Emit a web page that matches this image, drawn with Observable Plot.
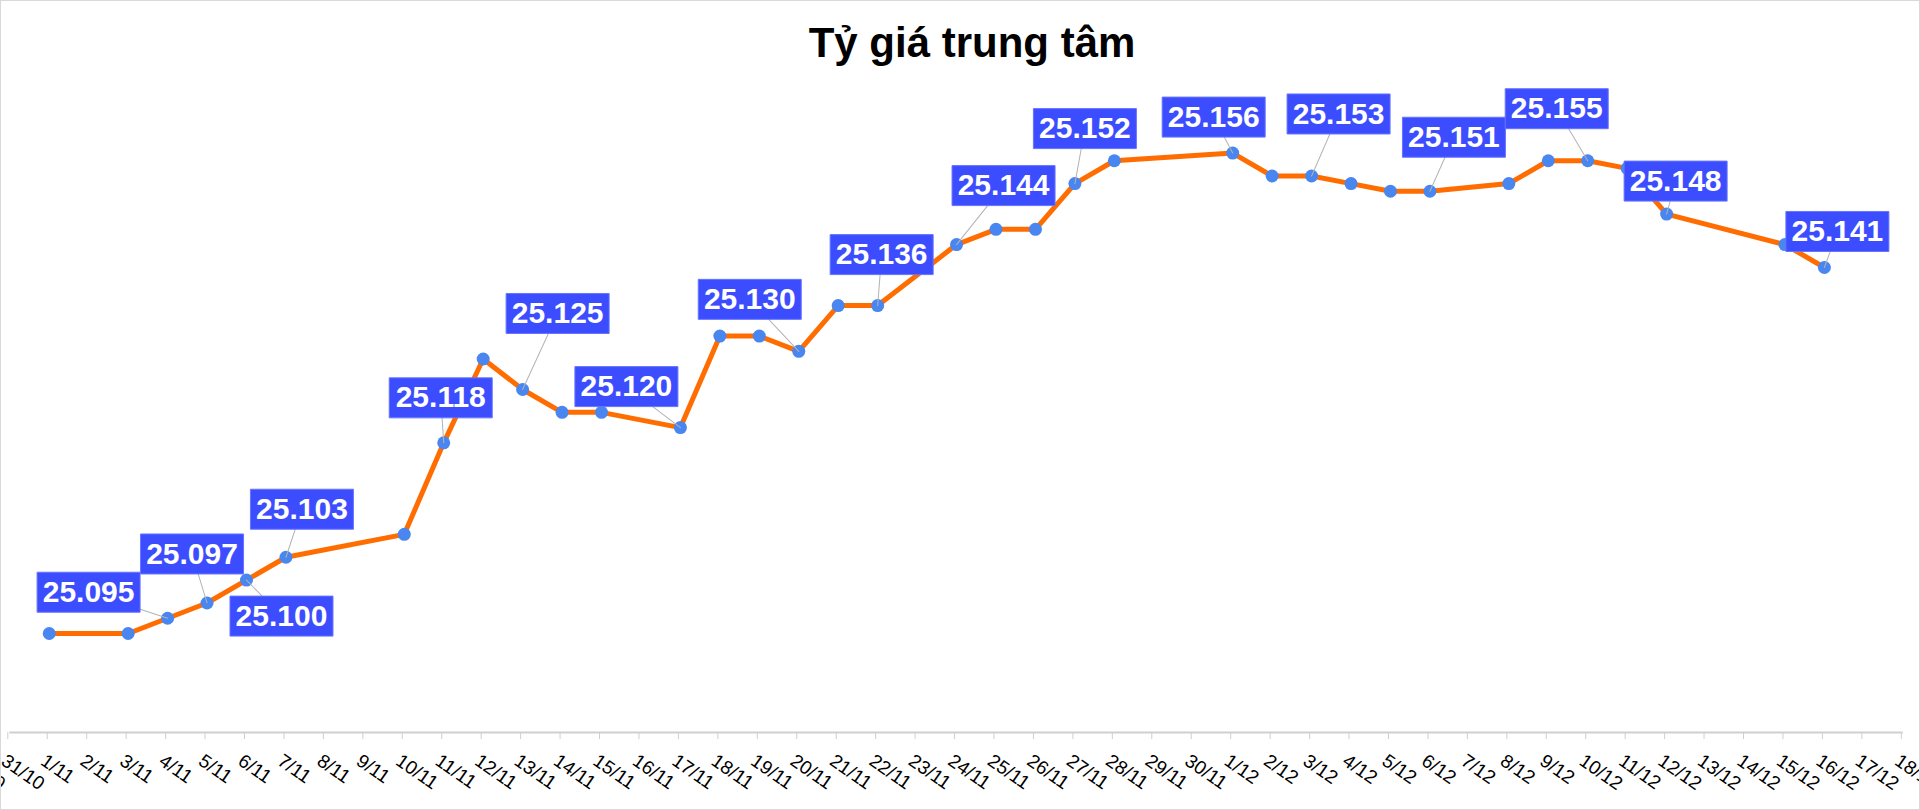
<!DOCTYPE html>
<html><head><meta charset="utf-8">
<script src="https://cdn.jsdelivr.net/npm/d3@7"></script>
<script src="https://cdn.jsdelivr.net/npm/@observablehq/plot@0.6"></script>
<style>
html,body{margin:0;padding:0;background:#fff;}
#wrap{position:relative;width:1920px;height:810px;overflow:hidden;font-family:"Liberation Sans",Arial,sans-serif;}
#title{position:absolute;left:0;top:0;width:1944px;height:70px;padding-top:22px;box-sizing:border-box;text-align:center;font-weight:bold;font-size:42px;line-height:42px;color:#000;white-space:nowrap;}
#chart{position:absolute;left:0;top:70px;}
#frame{position:absolute;left:0;top:0;width:1920px;height:810px;box-sizing:border-box;border:1px solid #d9d9d9;pointer-events:none;}
</style></head><body>
<div id="wrap"><div id="title">Tỷ giá trung tâm</div><div id="chart"></div><div id="frame"></div></div>
<script>
// ---- data ----
const dates = ["2025-11-01","2025-11-03","2025-11-04","2025-11-05","2025-11-06","2025-11-07","2025-11-10","2025-11-11","2025-11-12","2025-11-13","2025-11-14","2025-11-15","2025-11-17","2025-11-18","2025-11-19","2025-11-20","2025-11-21","2025-11-22","2025-11-24","2025-11-25","2025-11-26","2025-11-27","2025-11-28","2025-12-01","2025-12-02","2025-12-03","2025-12-04","2025-12-05","2025-12-06","2025-12-08","2025-12-09","2025-12-10","2025-12-11","2025-12-12","2025-12-15","2025-12-16"];
const rates = [25093,25093,25095,25097,25100,25103,25106,25118,25129,25125,25122,25122,25120,25132,25132,25130,25136,25136,25144,25146,25146,25152,25155,25156,25153,25153,25152,25151,25151,25152,25155,25155,25154,25148,25144,25141];
const labeledDates = ["2025-11-04","2025-11-05","2025-11-06","2025-11-07","2025-11-11","2025-11-13","2025-11-17","2025-11-20","2025-11-22","2025-11-24","2025-11-27","2025-12-01","2025-12-03","2025-12-06","2025-12-10","2025-12-12","2025-12-16"];
const tickStart = "2025-10-30", tickEnd = "2025-12-19";
const titleText = "Tỷ giá trung tâm";

// ---- label layout (pixel offsets of each label box from its point) ----
const labelOffsets = [[-79,-26],[-15,-49],[35,36],[16,-48],[-3,-45],[35,-76],[-54,-41],[-49,-52],[4,-51],[47,-59],[10,-55],[-19,-36],[27,-62],[24,-54],[-31,-52],[9,-33],[13,-36]];

const vn = d3.formatLocale({decimal:",", thousands:".", grouping:[3], currency:["",""]});
const fmt = vn.format(",d");
const data = dates.map((d,i)=>({date:new Date(d), rate:rates[i]}));
const labels = labeledDates.map((d,i)=>{
  const r = rates[dates.indexOf(d)];
  const [dx,dy] = labelOffsets[i];
  return {date:new Date(d), rate:r, text:fmt(r), dx, dy};
});
const xTicks = d3.utcDay.range(new Date(tickStart), new Date(tickEnd));
const boxSymbol = {draw(ctx){ ctx.rect(-51.5,-20,103,40); }};
const leaderShape = {draw(ctx, l){ ctx.moveTo(0,0); ctx.lineTo(0,-l); }};

const marks = [
  Plot.axisX({ticks:xTicks, tickFormat:d=>`${d.getUTCDate()}/${d.getUTCMonth()+1}`, tickSize:7, tickPadding:13, tickRotate:35, textAnchor:"start", lineAnchor:"top", fontSize:19, stroke:"#cfcfcf", fill:"#000", anchor:"bottom", dx:-2}),
  Plot.ruleY([25080], {stroke:"#cfcfcf", strokeWidth:2}),
  Plot.line(data, {x:"date", y:"rate", stroke:"#ff6d01", strokeWidth:5, strokeLinejoin:"round", strokeLinecap:"round"}),
  Plot.dot(data, {x:"date", y:"rate", r:6.5, fill:"#4a86f0", stroke:"none"})
];
for (const l of labels) {
  const len = Math.hypot(l.dx, l.dy);
  const ang = Math.atan2(l.dx, -l.dy) * 180 / Math.PI;
  marks.push(Plot.vector([l], {x:"date", y:"rate", length:len, rotate:ang, anchor:"start", shape:leaderShape, stroke:"#b3b3b3", strokeWidth:1}));
}
for (const l of labels) {
  marks.push(Plot.dot([l], {x:"date", y:"rate", symbol:boxSymbol, fill:"#3c4dff", stroke:"#6674ff", strokeWidth:1, dx:l.dx, dy:l.dy}));
  marks.push(Plot.text([l], {x:"date", y:"rate", text:"text", dx:l.dx, dy:l.dy, fill:"#fff", fontSize:30, fontWeight:"bold", textAnchor:"middle", lineAnchor:"middle"}));
}

const chart = Plot.plot({
  width:1920, height:740,
  marginLeft:9.3, marginRight:17.2, marginTop:52.1, marginBottom:77.9,
  x:{type:"utc", domain:[new Date("2025-10-31"), new Date("2025-12-18")], axis:null},
  y:{domain:[25080,25160], axis:null},
  style:{fontFamily:"'Liberation Sans', Arial, sans-serif", background:"transparent", overflow:"hidden"},
  marks
});
document.getElementById("chart").appendChild(chart);
document.getElementById("title").textContent = titleText;
</script>
</body></html>
